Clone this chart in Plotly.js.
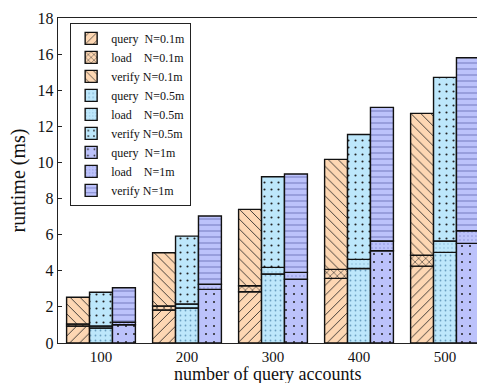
<!DOCTYPE html>
<html>
<head>
<meta charset="utf-8">
<script src="https://cdn.plot.ly/plotly-3.0.1.min.js"></script>
<style>html,body{margin:0;padding:0;background:#fff;}#chart{width:477px;height:383px;}</style>
</head>
<body>
<div id="chart"></div>
<script>
// categories
const categories = ['100', '200', '300', '400', '500'];
// runtime components (ms)
const query01  = [0.94, 1.83, 2.84, 3.58, 4.26];
const load01   = [0.11, 0.22, 0.33, 0.50, 0.60];
const verify01 = [1.48, 2.95, 4.23, 6.09, 7.86];
const query05  = [0.83, 1.94, 3.82, 4.13, 5.02];
const load05   = [0.11, 0.22, 0.37, 0.50, 0.63];
const verify05 = [1.87, 3.76, 5.02, 6.92, 9.06];
const query1   = [1.01, 2.97, 3.53, 5.11, 5.52];
const load1    = [0.14, 0.28, 0.38, 0.54, 0.70];
const verify1  = [1.91, 3.78, 5.45, 7.40, 9.58];
const yTicks = [0, 2, 4, 6, 8, 10, 12, 14, 16, 18];
const xTitle = 'number of query accounts';
const yTitle = 'runtime (ms)';

const add = (a, b) => a.map((v, i) => v + b[i]);
const zero = categories.map(() => 0);

const ORANGE = '#fdd7b3', BLUE = '#bde7fb', PURPLE = '#bcc2fb';
const lineStyle = {color: '#111', width: 1.4};

function seg(name, y, base, group, color, pattern) {
  return {
    type: 'bar', name: name, x: categories, y: y, base: base,
    offsetgroup: group,
    marker: {color: color, line: lineStyle, pattern: Object.assign({bgcolor: color, fillmode: 'replace'}, pattern)},
    hoverinfo: 'skip'
  };
}

const traces = [
  seg('query  N=0.1m', query01, zero, 'a', ORANGE, {shape: '/', fgcolor: '#222', size: 7, solidity: 0.12}),
  seg('load    N=0.1m', load01, query01, 'a', ORANGE, {shape: 'x', fgcolor: '#222', size: 5, solidity: 0.2}),
  seg('verify N=0.1m', verify01, add(query01, load01), 'a', ORANGE, {shape: '\\', fgcolor: '#222', size: 7, solidity: 0.12}),
  seg('query  N=0.5m', query05, zero, 'b', BLUE, {shape: '.', fgcolor: '#6a9fc0', size: 5, solidity: 0.1}),
  seg('load    N=0.5m', load05, query05, 'b', BLUE, {shape: '.', fgcolor: '#8ab8d6', size: 4, solidity: 0.1}),
  seg('verify N=0.5m', verify05, add(query05, load05), 'b', BLUE, {shape: '.', fgcolor: '#222', size: 7, solidity: 0.07}),
  seg('query  N=1m', query1, zero, 'c', PURPLE, {shape: '.', fgcolor: '#222', size: 8, solidity: 0.05}),
  seg('load    N=1m', load1, query1, 'c', PURPLE, {shape: '.', fgcolor: '#8a90d8', size: 4, solidity: 0.12}),
  seg('verify N=1m', verify1, add(query1, load1), 'c', PURPLE, {shape: '-', fgcolor: '#7a80c4', size: 6, solidity: 0.18})
];

const FONT = "'Liberation Serif', 'Times New Roman', serif";
const layout = {
  width: 477, height: 383,
  margin: {l: 58, r: 0, t: 18, b: 40, pad: 0},
  paper_bgcolor: '#fff', plot_bgcolor: '#fff',
  font: {family: FONT, color: '#111', size: 16},
  barmode: 'group', bargap: 0.2, bargroupgap: 0,
  showlegend: true,
  legend: {
    x: 0.029, y: 0.985, xanchor: 'left', yanchor: 'top',
    bordercolor: '#222', borderwidth: 1, bgcolor: '#fff',
    font: {family: FONT, size: 12, color: '#111'},
    tracegroupgap: 0, traceorder: 'normal'
  },
  xaxis: {
    type: 'category', range: [-0.5, 4.372],
    showline: true, linecolor: '#222', linewidth: 1.2, mirror: true,
    ticks: '', showgrid: false, zeroline: false,
    tickfont: {family: FONT, size: 15, color: '#111'}
  },
  yaxis: {
    range: [0, 18], tickvals: yTicks, ticktext: yTicks.map(String),
    showline: true, linecolor: '#222', linewidth: 1.2, mirror: false,
    ticks: 'inside', ticklen: 4, tickcolor: '#222',
    showgrid: false, zeroline: false,
    tickfont: {family: FONT, size: 16, color: '#111'},
    title: {text: yTitle, font: {family: FONT, size: 20, color: '#111'}, standoff: 6}
  },
  annotations: [{
    text: xTitle, xref: 'paper', yref: 'paper', x: 0.5, y: -0.062, xanchor: 'center', yanchor: 'top',
    showarrow: false, borderpad: 0, font: {family: FONT, size: 18, color: '#111'}
  }]
};

Plotly.newPlot('chart', traces, layout, {displayModeBar: false, staticPlot: true});
</script>
</body>
</html>
